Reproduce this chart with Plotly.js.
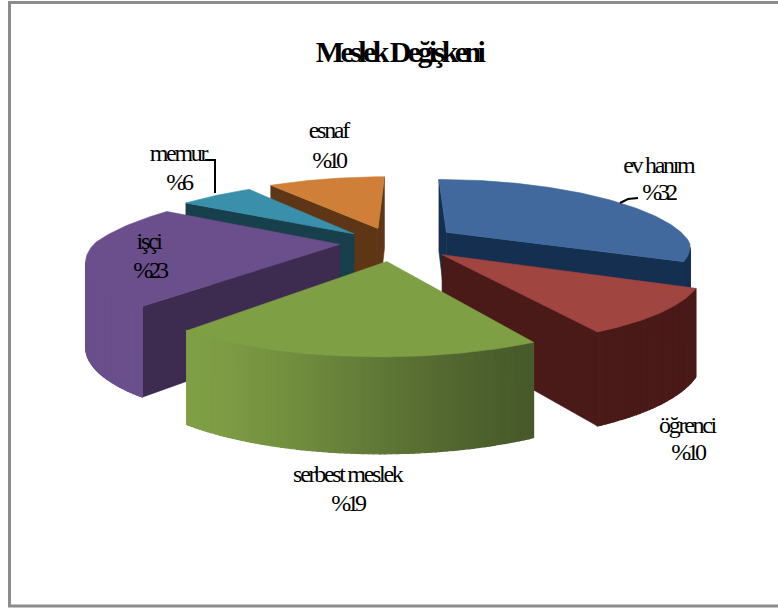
<!DOCTYPE html>
<html>
<head>
<meta charset="utf-8">
<script src="https://cdn.plot.ly/plotly-3.0.1.min.js"></script>
<style>
html,body{margin:0;padding:0;background:#fff}
#chart{width:778px;height:608px}
.annotation:nth-child(even) .annotation-text{letter-spacing:-2.3px}
.annotation:nth-child(odd) .annotation-text{letter-spacing:-4.2px}
.gtitle{letter-spacing:-3.6px}
</style>
</head>
<body>
<div id="chart"></div>
<script>
// Occupation shares, clockwise from twelve o'clock
const categories = ['ev hanım', 'öğrenci', 'serbest meslek', 'işçi', 'memur', 'esnaf'];
const shares = [32, 10, 19, 23, 6, 10];

// Slice colours: top face and shaded side
const topColors = ['#41699e', '#a04540', '#7f9f45', '#6a4f8c', '#3a8fab', '#d07f38'];
const sideColors = ['#152f50', '#4a1a18', '#46582a', '#3d2c50', '#173f4c', '#5e3615'];

// How far each slice is pulled out of the pie (ground-plane offsets)
const pullX = [54, 47, -6, -54, -42, -18];
const pullV = [-40, 41, 64, 5, -34, -55];

// Painter's order: back slices first
const drawOrder = [5, 4, 3, 0, 1, 2];

// Label anchors: name line and value line
const labelX = [658, 687, 347, 149, 178, 328];
const nameY = [165, 425, 474, 241, 153, 130];
const valueY = [192, 452, 503, 270, 182, 160];

// Leader lines for the two labels that sit off their slices
const leaderMemurX = [205, 215, 215], leaderMemurY = [160, 160, 193];
const leaderEvX = [620, 628, 638], leaderEvY = [203, 199, 198];

// Projection of the tilted pie, converging on a vanishing column right of centre
const R = 245, vanishX = 410, vanishOffset = 16, cy = 243;
const kxFront = 0.0008, kxBack = 0.0011, ay = 0.275, ky = 0.00082;
const thickness = 82, kt = 0.0005;

function project(X, V, down) {
  const sx = vanishX + (X - vanishOffset) / (1 - (V < 0 ? kxBack : kxFront) * V);
  const sy = cy + ay * V / (1 - ky * V);
  return [sx, down ? sy + thickness / (1 - kt * V) : sy];
}
function rimPoint(i, deg, down) {
  const a = deg * Math.PI / 180;
  return project(pullX[i] + R * Math.sin(a), pullV[i] - R * Math.cos(a), down);
}
function hexMix(c1, c2, t) {
  const p = c => [1, 3, 5].map(j => parseInt(c.substr(j, 2), 16));
  const a = p(c1), b = p(c2);
  return 'rgb(' + a.map((v, j) => Math.round(v + (b[j] - v) * t)).join(',') + ')';
}
function area2(pts) {
  let s = 0;
  pts.forEach((p, j) => {
    const q = pts[(j + 1) % pts.length];
    s += p[0] * q[1] - q[0] * p[1];
  });
  return s;
}
function polygon(pts, color, lineWidth) {
  const xs = pts.map(p => p[0]).concat(pts[0][0]);
  const ys = pts.map(p => p[1]).concat(pts[0][1]);
  return {type: 'scatter', mode: 'lines', x: xs, y: ys, fill: 'toself', fillcolor: color,
          line: {color: color, width: lineWidth}, hoverinfo: 'skip', showlegend: false};
}
// Light falls on the rim from the lower left
function rimLight(deg) {
  const t = Math.min(1, Math.max(0, (deg - 145) / 75));
  return t * t * (3 - 2 * t);
}

const starts = [];
shares.reduce((sum, v, i) => { starts[i] = sum; return sum + v; }, 0);
const total = shares.reduce((a, b) => a + b, 0);

const traces = [];
drawOrder.forEach(i => {
  const a0 = starts[i] / total * 360, a1 = (starts[i] + shares[i]) / total * 360;
  const apexTop = project(pullX[i], pullV[i], false);
  const apexBot = project(pullX[i], pullV[i], true);

  // Cut faces along the two radii
  const startFace = [apexTop, rimPoint(i, a0, false), rimPoint(i, a0, true), apexBot];
  const endFace = [apexTop, rimPoint(i, a1, false), rimPoint(i, a1, true), apexBot];
  if (area2(startFace) < 0) traces.push(polygon(startFace, sideColors[i], 0.6));
  if (area2(endFace) > 0) traces.push(polygon(endFace, sideColors[i], 0.6));

  // Rim, in narrow strips so the shading can vary round the edge
  const step = 1;
  for (let d = a0; d < a1; d += step) {
    const e = Math.min(d + step, a1);
    const quad = [rimPoint(i, d, false), rimPoint(i, e, false), rimPoint(i, e, true), rimPoint(i, d, true)];
    if (area2(quad) < 0) traces.push(polygon(quad, hexMix(sideColors[i], topColors[i], rimLight((d + e) / 2)), 1.2));
  }

  // Top face
  const top = [apexTop];
  for (let d = a0; d < a1; d += 1) top.push(rimPoint(i, d, false));
  top.push(rimPoint(i, a1, false));
  traces.push(polygon(top, topColors[i], 0.6));
});

[[leaderMemurX, leaderMemurY], [leaderEvX, leaderEvY]].forEach(l => {
  traces.push({type: 'scatter', mode: 'lines', x: l[0], y: l[1],
               line: {color: '#000', width: 2}, hoverinfo: 'skip', showlegend: false});
});

const labelFont = {family: '"Liberation Serif", serif', size: 24, color: '#000'};
const makeLabel = (text, x, y) => ({
  x: x, y: y, xref: 'x', yref: 'y', showarrow: false, text: text, font: labelFont,
  align: 'center', xanchor: 'center', yanchor: 'middle'
});
const annotations = [];
categories.forEach((c, i) => {
  annotations.push(makeLabel(c, labelX[i], nameY[i]));
  annotations.push(makeLabel('%' + shares[i], labelX[i], valueY[i]));
});

const layout = {
  width: 778, height: 608, margin: {l: 0, r: 0, t: 0, b: 0},
  paper_bgcolor: '#fff', plot_bgcolor: '#fff', showlegend: false,
  title: {text: '<b>Meslek Değişkeni</b>', x: 399 / 778, xanchor: 'center', y: 1 - 51 / 608, yanchor: 'middle',
          font: {family: '"Liberation Serif", serif', size: 30, color: '#000'}},
  xaxis: {range: [0, 778], visible: false, fixedrange: true},
  yaxis: {range: [608, 0], visible: false, fixedrange: true},
  annotations: annotations,
  shapes: [{type: 'rect', xref: 'x', yref: 'y', x0: 9.5, x1: 790, y0: 2.5, y1: 606,
            line: {color: '#8c8c8c', width: 3}, fillcolor: 'rgba(0,0,0,0)'}]
};
Plotly.newPlot('chart', traces, layout, {displayModeBar: false, staticPlot: true});
</script>
</body>
</html>
